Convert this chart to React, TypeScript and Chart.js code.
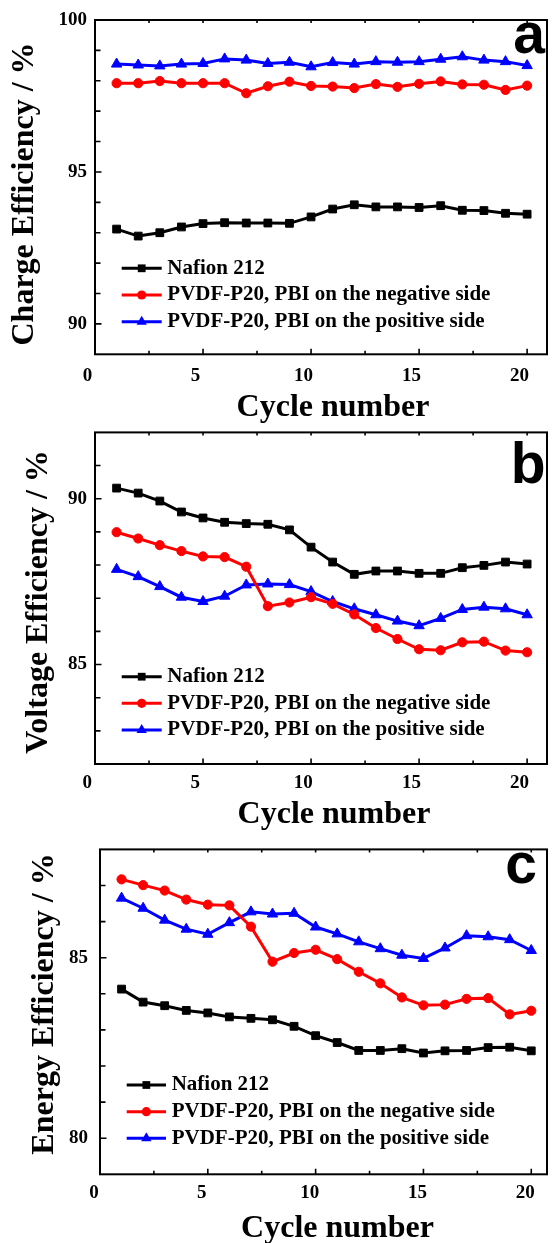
import React, { useEffect, useRef } from 'react';
import { Chart, registerables } from 'chart.js';

Chart.register(...registerables);

// ---------------- data ----------------
const cycles = [1, 2, 3, 4, 5, 6, 7, 8, 9, 10, 11, 12, 13, 14, 15, 16, 17, 18, 19, 20];

const seriesNames = [
  'Nafion 212',
  'PVDF-P20, PBI on the negative side',
  'PVDF-P20, PBI on the positive side',
];

const chargeNafion = [93.12, 92.89, 93.0, 93.19, 93.3, 93.33, 93.32, 93.32, 93.31, 93.52, 93.78, 93.92, 93.85, 93.85, 93.83, 93.89, 93.74, 93.73, 93.64, 93.61];
const chargeNeg = [97.92, 97.92, 97.99, 97.92, 97.92, 97.92, 97.59, 97.82, 97.97, 97.83, 97.81, 97.76, 97.89, 97.8, 97.9, 97.98, 97.88, 97.87, 97.7, 97.84];
const chargePos = [98.55, 98.52, 98.49, 98.55, 98.57, 98.72, 98.68, 98.57, 98.61, 98.46, 98.6, 98.55, 98.63, 98.61, 98.63, 98.71, 98.79, 98.68, 98.63, 98.5];

const voltageNafion = [90.32, 90.17, 89.93, 89.6, 89.42, 89.29, 89.25, 89.23, 89.06, 88.54, 88.09, 87.72, 87.82, 87.82, 87.75, 87.75, 87.92, 87.99, 88.09, 88.03];
const voltageNeg = [88.99, 88.8, 88.6, 88.42, 88.26, 88.24, 87.95, 86.76, 86.87, 87.03, 86.83, 86.51, 86.1, 85.77, 85.46, 85.43, 85.67, 85.69, 85.42, 85.37];
const voltagePos = [87.87, 87.65, 87.35, 87.03, 86.9, 87.06, 87.4, 87.43, 87.41, 87.2, 86.9, 86.68, 86.5, 86.31, 86.17, 86.39, 86.66, 86.73, 86.68, 86.5];

const energyNafion = [84.13, 83.77, 83.67, 83.54, 83.47, 83.36, 83.32, 83.28, 83.1, 82.84, 82.65, 82.43, 82.43, 82.48, 82.36, 82.42, 82.43, 82.51, 82.52, 82.42];
const energyNeg = [87.17, 87.01, 86.86, 86.61, 86.47, 86.45, 85.86, 84.89, 85.13, 85.22, 84.96, 84.61, 84.29, 83.9, 83.68, 83.7, 83.86, 83.88, 83.43, 83.53];
const energyPos = [86.65, 86.37, 86.04, 85.79, 85.65, 85.97, 86.27, 86.21, 86.23, 85.85, 85.66, 85.44, 85.25, 85.07, 84.98, 85.27, 85.61, 85.58, 85.5, 85.2];

const xTickLabels = [0, 5, 10, 15, 20];
const chargeTicks = [90, 95, 100];
const voltageTicks = [85, 90];
const energyTicks = [80, 85];

// ---------------- styles ----------------
const SERIF = "'Liberation Serif', 'Times New Roman', Times, serif";
const SANS = "'Liberation Sans', Arial, Helvetica, sans-serif";
const COLORS = ['#000000', '#ff0000', '#0000ff'];
const POINT_STYLES = ['rect', 'circle', 'triangle'];
const POINT_RADII = [5.5, 4.6, 6];

type PanelSpec = {
  key: string;
  top: number;
  height: number;
  area: { l: number; t: number; r: number; b: number };
  yMin: number;
  yMax: number;
  yTicks: number[];
  xMax: number;
  xLabelOffset: number;
  xPad: number;
  yPad: number;
  yTitle: string;
  yTitlePos: { x: number; y: number };
  xTitlePos: { x: number; y: number };
  letter: string;
  letterPos: { x: number; y: number };
  legend: { x0: number; x1: number; tx: number; rows: number[] };
  series: number[][];
};

const panels: PanelSpec[] = [
  {
    key: 'a',
    top: 0,
    height: 430,
    area: { l: 95, t: 20, r: 551, b: 354.3 },
    yMin: 89,
    yMax: 100,
    yTicks: chargeTicks,
    xMax: 20.92,
    xLabelOffset: -7.5,
    xPad: 10.3,
    yPad: 8,
    yTitle: 'Charge Efficiency / %',
    yTitlePos: { x: 33, y: 194 },
    xTitlePos: { x: 333, y: 416 },
    letter: 'a',
    letterPos: { x: 545, y: 52.5 },
    legend: { x0: 121.7, x1: 161.7, tx: 167.3, rows: [268.3, 295, 321.7] },
    series: [chargeNafion, chargeNeg, chargePos],
  },
  {
    key: 'b',
    top: 413,
    height: 430,
    area: { l: 95, t: 14.3, r: 551, b: 351 },
    yMin: 82,
    yMax: 92,
    yTicks: voltageTicks,
    xMax: 20.92,
    xLabelOffset: -7.7,
    xPad: 7.9,
    yPad: 8,
    yTitle: 'Voltage Efficiency / %',
    yTitlePos: { x: 47, y: 189 },
    xTitlePos: { x: 334, y: 410 },
    letter: 'b',
    letterPos: { x: 545.5, y: 69.5 },
    legend: { x0: 121.7, x1: 161.7, tx: 167.3, rows: [263.7, 290.3, 317] },
    series: [voltageNafion, voltageNeg, voltagePos],
  },
  {
    key: 'c',
    top: 826,
    height: 417,
    area: { l: 100, t: 10.7, r: 551.7, b: 348.3 },
    yMin: 79,
    yMax: 88,
    yTicks: energyTicks,
    xMax: 20.73,
    xLabelOffset: -6,
    xPad: 7.3,
    yPad: 12,
    yTitle: 'Energy Efficiency / %',
    yTitlePos: { x: 52.5, y: 178 },
    xTitlePos: { x: 337.5, y: 410.5 },
    letter: 'c',
    letterPos: { x: 537, y: 56.5 },
    legend: { x0: 126.7, x1: 166, tx: 171.7, rows: [259, 285.7, 312.3] },
    series: [energyNafion, energyNeg, energyPos],
  },
];

function drawMarker(ctx: CanvasRenderingContext2D, style: string, x: number, y: number, r: number, color: string) {
  ctx.fillStyle = color;
  ctx.beginPath();
  if (style === 'rect') {
    const s = r * Math.SQRT1_2;
    ctx.rect(x - s, y - s, 2 * s, 2 * s);
  } else if (style === 'circle') {
    ctx.arc(x, y, r, 0, Math.PI * 2);
  } else {
    let rad = 0;
    ctx.moveTo(x + Math.sin(rad) * r, y - Math.cos(rad) * r);
    rad += (2 * Math.PI) / 3;
    ctx.lineTo(x + Math.sin(rad) * r, y - Math.cos(rad) * r);
    rad += (2 * Math.PI) / 3;
    ctx.lineTo(x + Math.sin(rad) * r, y - Math.cos(rad) * r);
    ctx.closePath();
  }
  ctx.fill();
}

function makeConfig(spec: PanelSpec): any {
  const decor = {
    id: 'decor' + spec.key,
    afterDatasetsDraw(chart: any) {
      const { ctx, chartArea: a, scales } = chart;
      const xs = scales.x;
      const ys = scales.y;
      ctx.save();
      // frame
      ctx.strokeStyle = '#000';
      ctx.lineWidth = 2;
      ctx.strokeRect(a.left, a.top, a.right - a.left, a.bottom - a.top);
      // ticks
      ctx.lineWidth = 1.6;
      ctx.beginPath();
      for (let v = 2.5; v <= xs.max; v += 2.5) {
        const px = xs.getPixelForValue(v);
        if (px >= a.right - 1) continue;
        const major = Math.abs(v % 5) < 1e-6;
        ctx.moveTo(px, a.bottom);
        ctx.lineTo(px, a.bottom - (major ? 5.5 : 3.5));
        ctx.moveTo(px, a.top);
        ctx.lineTo(px, a.top + 3);
      }
      for (let v = Math.ceil(ys.min); v <= ys.max; v++) {
        const py = ys.getPixelForValue(v);
        if (py <= a.top + 1 || py >= a.bottom - 1) continue;
        const major = spec.yTicks.includes(v);
        ctx.moveTo(a.left, py);
        ctx.lineTo(a.left + (major ? 6.5 : 5.5), py);
      }
      ctx.stroke();

      // legend
      ctx.font = `bold 21px ${SERIF}`;
      ctx.textAlign = 'left';
      ctx.textBaseline = 'middle';
      chart.data.datasets.forEach((ds: any, i: number) => {
        const ry = spec.legend.rows[i];
        ctx.strokeStyle = ds.borderColor;
        ctx.lineWidth = 3;
        ctx.beginPath();
        ctx.moveTo(spec.legend.x0, ry);
        ctx.lineTo(spec.legend.x1, ry);
        ctx.stroke();
        drawMarker(ctx, ds.pointStyle, (spec.legend.x0 + spec.legend.x1) / 2, ry, ds.pointRadius, ds.borderColor);
        ctx.fillStyle = '#000';
        ctx.fillText(ds.label, spec.legend.tx, ry);
      });

      // axis titles
      ctx.fillStyle = '#000';
      ctx.font = `bold 32px ${SERIF}`;
      ctx.textAlign = 'center';
      ctx.textBaseline = 'alphabetic';
      ctx.fillText('Cycle number', spec.xTitlePos.x, spec.xTitlePos.y);
      ctx.save();
      ctx.translate(spec.yTitlePos.x, spec.yTitlePos.y);
      ctx.rotate(-Math.PI / 2);
      ctx.fillText(spec.yTitle, 0, 0);
      ctx.restore();

      // panel letter
      ctx.font = `bold 57px ${SANS}`;
      ctx.textAlign = 'right';
      ctx.textBaseline = 'alphabetic';
      ctx.fillText(spec.letter, spec.letterPos.x, spec.letterPos.y);
      ctx.restore();
    },
  };

  const tickFont = { family: SERIF, size: 19, weight: 'bold' as const };

  return {
    type: 'line',
    data: {
      datasets: spec.series.map((vals, i) => ({
        label: seriesNames[i],
        data: cycles.map((c, j) => ({ x: c, y: vals[j] })),
        borderColor: COLORS[i],
        backgroundColor: COLORS[i],
        borderWidth: 3,
        pointStyle: POINT_STYLES[i],
        pointRadius: POINT_RADII[i],
        pointBorderWidth: 1,
        pointBackgroundColor: COLORS[i],
        pointBorderColor: COLORS[i],
        tension: 0,
        fill: false,
      })),
    },
    options: {
      responsive: false,
      animation: false,
      events: [],
      layout: {
        padding: { left: 0, top: spec.area.t, right: 554 - spec.area.r, bottom: 0 },
      },
      plugins: {
        legend: { display: false },
        tooltip: { enabled: false },
        title: { display: false },
      },
      scales: {
        x: {
          type: 'linear',
          min: 0,
          max: spec.xMax,
          grid: { display: false, drawTicks: false },
          border: { display: false },
          ticks: {
            color: '#000',
            font: tickFont,
            padding: spec.xPad,
            labelOffset: spec.xLabelOffset,
            maxRotation: 0,
            autoSkip: false,
          },
          afterBuildTicks: (s: any) => {
            s.ticks = xTickLabels.map((v) => ({ value: v }));
          },
          afterFit: (s: any) => {
            s.height = spec.height - spec.area.b;
          },
        },
        y: {
          type: 'linear',
          min: spec.yMin,
          max: spec.yMax,
          grid: { display: false, drawTicks: false },
          border: { display: false },
          ticks: {
            color: '#000',
            font: tickFont,
            padding: spec.yPad,
            autoSkip: false,
          },
          afterBuildTicks: (s: any) => {
            s.ticks = spec.yTicks.map((v) => ({ value: v }));
          },
          afterFit: (s: any) => {
            s.width = spec.area.l;
          },
        },
      },
    },
    plugins: [decor],
  };
}

function Panel({ spec }: { spec: PanelSpec }) {
  const ref = useRef<HTMLCanvasElement>(null);
  useEffect(() => {
    const chart = new Chart(ref.current as HTMLCanvasElement, makeConfig(spec));
    return () => chart.destroy();
  }, [spec]);
  return (
    <canvas
      ref={ref}
      width={554}
      height={spec.height}
      style={{ position: 'absolute', left: 0, top: spec.top, width: 554, height: spec.height }}
    />
  );
}

export default function App() {
  return (
    <div style={{ position: 'absolute', left: 0, top: 0, width: 554, height: 1243, background: '#fff' }}>
      {panels.map((p) => (
        <Panel key={p.key} spec={p} />
      ))}
    </div>
  );
}
